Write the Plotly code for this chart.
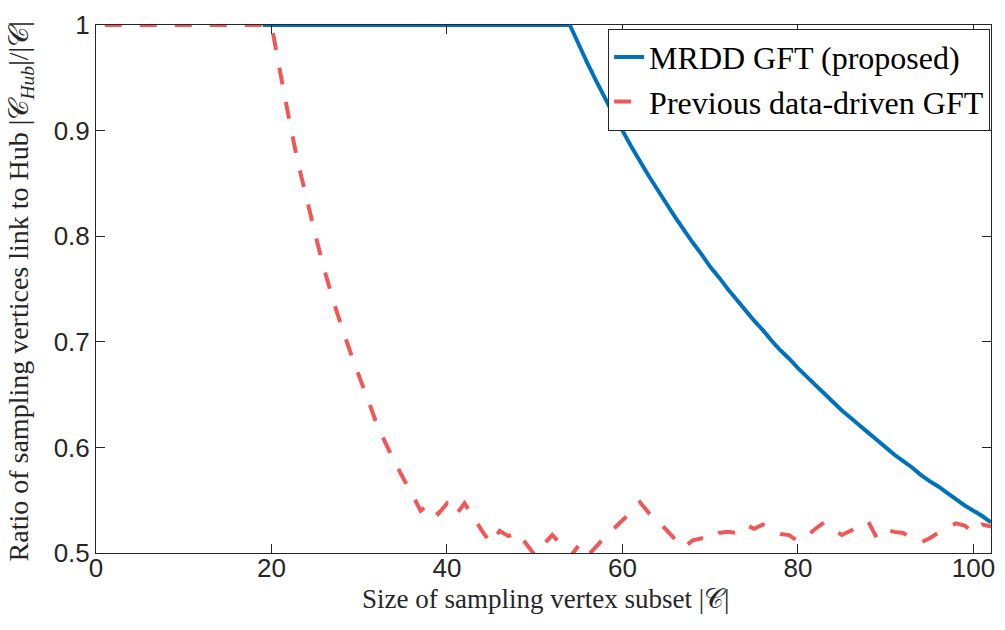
import plotly.graph_objects as go

# Sampling-set sizes |C|
x_blue = list(range(19, 103))
x_red = list(range(1, 103))

# MRDD GFT (proposed): ratio of sampling vertices linked to the hub
mrdd_ratio = [
    1.000, 1.000, 1.000, 1.000, 1.000, 1.000, 1.000, 1.000, 1.000, 1.000,   # 19-28
    1.000, 1.000, 1.000, 1.000, 1.000, 1.000, 1.000, 1.000, 1.000, 1.000,   # 29-38
    1.000, 1.000, 1.000, 1.000, 1.000, 1.000, 1.000, 1.000, 1.000, 1.000,   # 39-48
    1.000, 1.000, 1.000, 1.000, 1.000, 1.000,                               # 49-54
    0.982, 0.964, 0.947, 0.931, 0.915, 0.900, 0.885, 0.871, 0.857, 0.844,   # 55-64
    0.831, 0.818, 0.806, 0.794, 0.783, 0.771, 0.761, 0.750, 0.740, 0.730,   # 65-74
    0.720, 0.711, 0.701, 0.692, 0.684, 0.675, 0.667, 0.659, 0.651, 0.643,   # 75-84
    0.635, 0.628, 0.621, 0.614, 0.607, 0.600, 0.593, 0.587, 0.581, 0.574,   # 85-94
    0.568, 0.563, 0.557, 0.551, 0.545, 0.540, 0.535, 0.529,                 # 95-102
]

# Previous data-driven GFT
prev_ratio = [
    1.000, 1.000, 1.000, 1.000, 1.000, 1.000, 1.000, 1.000, 1.000, 1.000,   # 1-10
    1.000, 1.000, 1.000, 1.000, 1.000, 1.000, 1.000, 1.000, 1.000, 1.000,   # 11-20
    0.955, 0.911, 0.870, 0.836, 0.801, 0.769, 0.740, 0.714, 0.690, 0.667,   # 21-30
    0.645, 0.622, 0.604, 0.587, 0.571, 0.556, 0.540, 0.547, 0.537, 0.547,   # 31-40
    0.536, 0.547, 0.534, 0.521, 0.509, 0.521, 0.516, 0.520, 0.509, 0.498,   # 41-50
    0.508, 0.517, 0.508, 0.496, 0.507, 0.497, 0.506, 0.515, 0.523, 0.531,   # 51-60
    0.539, 0.548, 0.538, 0.530, 0.522, 0.513, 0.505, 0.512, 0.514, 0.512,   # 61-70
    0.519, 0.520, 0.519, 0.527, 0.523, 0.527, 0.521, 0.518, 0.517, 0.511,   # 71-80
    0.516, 0.523, 0.529, 0.523, 0.517, 0.521, 0.527, 0.530, 0.514, 0.522,   # 81-90
    0.520, 0.519, 0.513, 0.510, 0.514, 0.519, 0.524, 0.528, 0.526, 0.519,   # 91-100
    0.527, 0.525,                                                           # 101-102
]

x_ticks = [0, 20, 40, 60, 80, 100]
x_tick_text = ["0", "20", "40", "60", "80", "100"]
y_ticks = [0.5, 0.6, 0.7, 0.8, 0.9, 1.0]
y_tick_text = ["0.5", "0.6", "0.7", "0.8", "0.9", "1"]

x_title = "Size of sampling vertex subset |𝒞|"
y_title = "Ratio of sampling vertices link to Hub |𝒞<sub><i>Hub</i></sub>|/|𝒞|"

BLUE = "#0072BD"
RED = "rgb(238,88,88)"
AXIS = "#262626"
SERIF = "Liberation Serif, DejaVu Serif, serif"
SANS = "Liberation Sans, Arial, sans-serif"

fig = go.Figure()
fig.add_trace(go.Scatter(
    x=x_blue, y=mrdd_ratio, mode="lines",
    name="MRDD GFT (proposed)",
    line=dict(color=BLUE, width=4, simplify=False),
))
fig.add_trace(go.Scatter(
    x=x_red, y=prev_ratio, mode="lines",
    name="Previous data-driven GFT",
    line=dict(color=RED, width=4, dash="17px,18px", simplify=False),
))

axis_common = dict(
    showline=True, linecolor=AXIS, linewidth=1, mirror="allticks",
    ticks="inside", ticklen=9, tickwidth=1, tickcolor=AXIS,
    showgrid=False, zeroline=False,
    tickfont=dict(family=SANS, size=26, color=AXIS),
)

fig.update_xaxes(range=[0, 102], tickvals=x_ticks, ticktext=x_tick_text,
                 ticklabelstandoff=-8, **axis_common)
fig.update_yaxes(range=[0.5, 1.0], tickvals=y_ticks, ticktext=y_tick_text, **axis_common)

# Axis titles placed as annotations so they can sit close to the tick labels
fig.add_annotation(
    text=x_title, xref="paper", yref="paper", x=0.503, y=-0.087,
    xanchor="center", yanchor="middle", showarrow=False,
    font=dict(family=SERIF, size=27, color=AXIS),
)
fig.add_annotation(
    text=y_title, xref="paper", yref="paper", x=-0.084, y=0.495,
    xanchor="center", yanchor="middle", showarrow=False, textangle=-90,
    font=dict(family=SERIF, size=28, color=AXIS),
)

fig.update_layout(
    width=1005, height=630,
    margin=dict(l=96, r=10, t=24, b=77),
    paper_bgcolor="white", plot_bgcolor="white",
    legend=dict(
        x=0.999, y=0.993, xanchor="right", yanchor="top",
        bgcolor="white", bordercolor=AXIS, borderwidth=1,
        font=dict(family=SERIF, size=32, color="black"),
        tracegroupgap=0,
    ),
)

fig.write_html("out.html")
